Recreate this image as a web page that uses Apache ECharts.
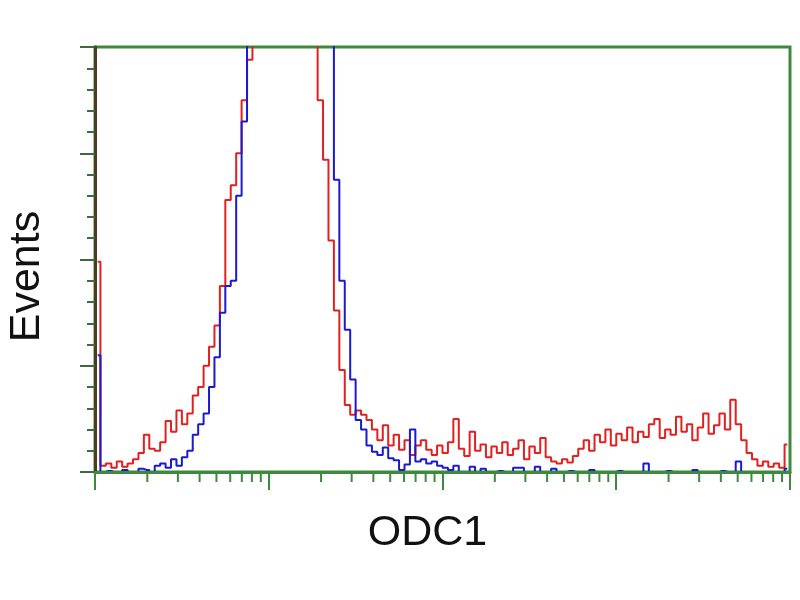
<!DOCTYPE html>
<html>
<head>
<meta charset="utf-8">
<script src="https://cdn.jsdelivr.net/npm/echarts@6/dist/echarts.min.js"></script>
<style>
  html, body { margin: 0; padding: 0; background: #fff; }
  #chart { width: 800px; height: 600px; }
</style>
</head>
<body>
<div id="chart"></div>
<script>
// histogram counts, 128 log bins from 1 to 10^4
var redCounts = [
  198, 6, 8, 4, 10, 5, 8, 12, 18, 35, 22, 20, 28, 48, 38, 58,
  45, 55, 72, 80, 100, 118, 138, 175, 256, 270, 300, 350, 388, 600, 720, 820,
  880, 910, 900, 860, 790, 700, 610, 520, 450, 350, 294, 218, 152, 96, 63, 54,
  58, 54, 49, 40, 30, 44, 25, 35, 21, 30, 16, 25, 30, 21, 16, 25,
  18, 28, 50, 22, 15, 38, 20, 26, 14, 24, 18, 28, 16, 22, 30, 12,
  24, 18, 32, 14, 10, 8, 12, 9, 15, 22, 30, 20, 35, 28, 40, 25,
  36, 30, 42, 28, 38, 33, 45, 50, 32, 40, 35, 52, 38, 45, 30, 42,
  55, 36, 44, 55, 40, 68, 45, 30, 18, 12, 6, 10, 5, 8, 4, 26
];
var blueCounts = [
  110, 0, 1, 0, 0, 2, 0, 0, 3, 2, 0, 6, 8, 4, 12, 6,
  14, 20, 35, 45, 55, 80, 108, 150, 175, 180, 260, 330, 420, 560, 700, 810,
  880, 930, 950, 920, 860, 780, 690, 600, 530, 470, 430, 410, 275, 180, 134, 87,
  49, 40, 25, 19, 16, 23, 13, 11, 2, 7, 40, 10, 12, 8, 10, 6,
  4, 2, 6, 0, 0, 5, 0, 3, 0, 0, 1, 0, 0, 4, 4, 0,
  0, 5, 0, 0, 3, 0, 0, 1, 0, 0, 0, 2, 0, 0, 0, 0,
  1, 0, 0, 0, 0, 8, 0, 0, 0, 1, 0, 0, 0, 0, 2, 0,
  0, 0, 0, 1, 0, 0, 10, 0, 0, 0, 0, 0, 0, 0, 0, 3
];
var minorTickValues = [
  2, 3, 4, 5, 6, 7, 8, 9,
  20, 30, 40, 50, 60, 70, 80, 90,
  200, 300, 400, 500, 600, 700, 800, 900,
  2000, 3000, 4000, 5000, 6000, 7000, 8000, 9000
];
var xTitle = 'ODC1';
var yTitle = 'Events';

var decades = 4;
function toPairs(counts) {
  var n = counts.length;
  return counts.map(function (c, i) {
    return [Math.pow(10, (i + 0.5) * decades / n), c];
  });
}

var green = '#3d8a3d';
var chart = echarts.init(document.getElementById('chart'));
chart.setOption({
  animation: false,
  backgroundColor: '#fff',
  grid: {
    left: 95, right: 10, top: 47, bottom: 128,
    outerBoundsMode: 'none',
    show: true, borderColor: green, borderWidth: 3
  },
  xAxis: {
    type: 'log', logBase: 10, min: 1, max: 10000, z: 5,
    name: xTitle, nameLocation: 'middle', nameGap: 40,
    nameTextStyle: { fontSize: 43, color: '#111', fontFamily: 'Liberation Sans', padding: [0, 30, 0, 0] },
    axisLine: { lineStyle: { color: green, width: 3 } },
    axisTick: { length: 18, lineStyle: { color: green, width: 2 } },
    axisLabel: { show: false },
    splitLine: { show: false }
  },
  yAxis: {
    type: 'value', min: 0, max: 400, interval: 100,
    name: yTitle, nameLocation: 'middle', nameGap: 46,
    nameTextStyle: { fontSize: 43, color: '#111', fontFamily: 'Liberation Sans', padding: [0, 34, 0, 0] },
    axisLine: { show: true, lineStyle: { color: '#4d3b1f', width: 3 } },
    axisTick: { show: true, length: 15, lineStyle: { color: '#3d6b3d', width: 2 } },
    minorTick: { show: true, splitNumber: 5, length: 8, lineStyle: { color: '#3d6b3d', width: 2 } },
    axisLabel: { show: false },
    splitLine: { show: false }
  },
  series: [
    {
      name: 'control', type: 'line', step: 'middle', showSymbol: false,
      data: toPairs(redCounts),
      lineStyle: { color: '#e32020', width: 2 }, itemStyle: { color: '#e32020' }
    },
    {
      name: 'ODC1', type: 'line', step: 'middle', showSymbol: false,
      data: toPairs(blueCounts),
      lineStyle: { color: '#1a1ad0', width: 2 }, itemStyle: { color: '#1a1ad0' }
    },
    {
      type: 'custom', silent: true, clip: false, z: 6,
      data: minorTickValues.map(function (v) { return [v, 0]; }),
      renderItem: function (params, api) {
        var p = api.coord([api.value(0), 0]);
        return {
          type: 'line',
          shape: { x1: p[0], y1: p[1], x2: p[0], y2: p[1] + 10 },
          style: { stroke: green, lineWidth: 2 }
        };
      }
    }
  ]
});
</script>
</body>
</html>
